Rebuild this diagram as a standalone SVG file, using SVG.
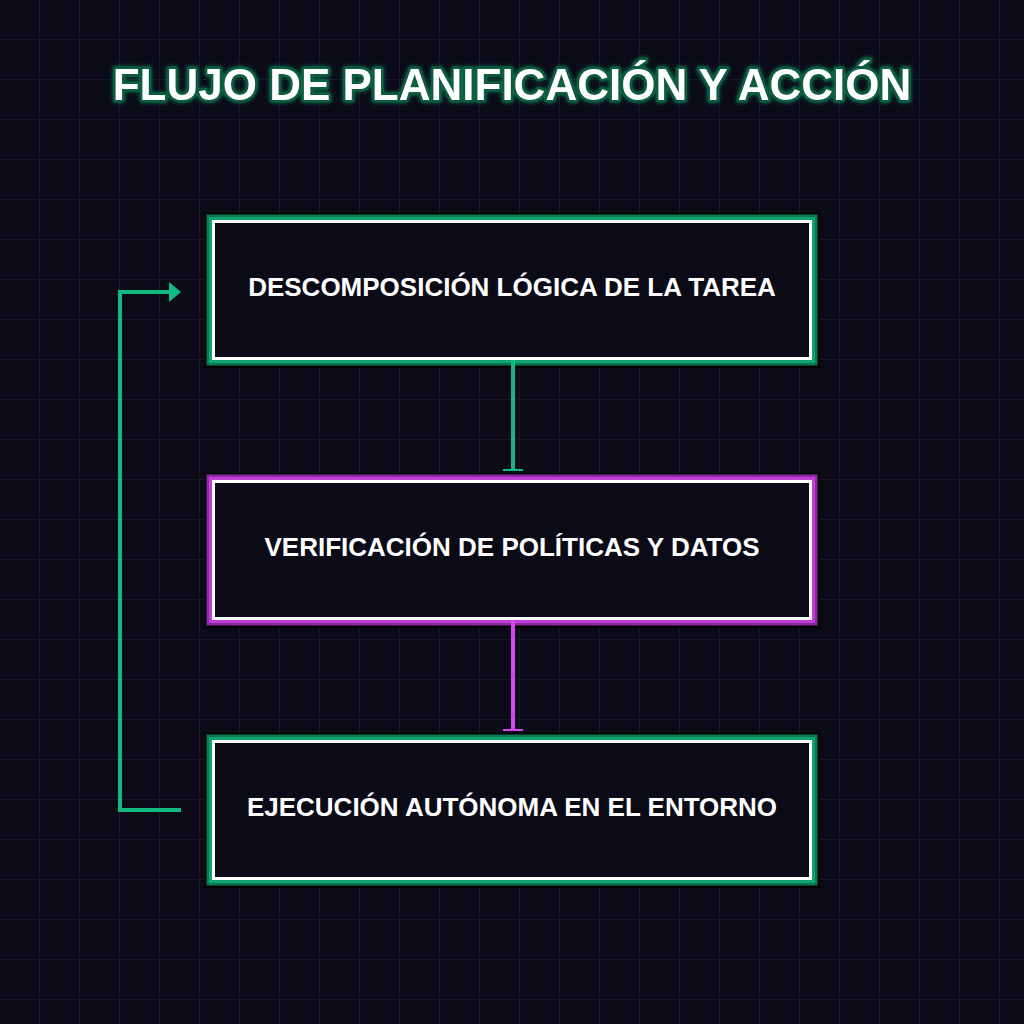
<svg xmlns="http://www.w3.org/2000/svg" width="1024" height="1024" viewBox="0 0 1024 1024">
<defs>
<pattern id="grid" width="40" height="40" patternUnits="userSpaceOnUse">
<path d="M40 0V40M0 40H40" fill="none" stroke="#18182a" stroke-width="1" transform="translate(-0.5,-0.5)"/>
</pattern>
<filter id="glow" x="-10%" y="-50%" width="120%" height="200%">
<feGaussianBlur stdDeviation="2" in="SourceAlpha" result="b"/>
<feFlood flood-color="#10b981" flood-opacity="0.6"/>
<feComposite in2="b" operator="in" result="g"/>
<feMerge><feMergeNode in="g"/><feMergeNode in="SourceGraphic"/></feMerge>
</filter>
<marker id="arrow-g" viewBox="0 0 12 20" refX="1" refY="10" markerWidth="12" markerHeight="20" markerUnits="userSpaceOnUse" orient="auto">
<path d="M0 0L12 10L0 20Z" fill="#10b981"/>
</marker>
<style>
.bg{fill:#0b0b18}
.title{font-family:"Liberation Sans",Arial,sans-serif;font-weight:bold;font-size:44px;fill:#ffffff;stroke:#0a5c3d;stroke-width:5px;paint-order:stroke;stroke-linejoin:round;text-anchor:middle}
.label{font-family:"Liberation Sans",Arial,sans-serif;font-weight:bold;font-size:26px;fill:#ffffff;text-anchor:middle}
.inner{fill:#0b0b18;stroke:#ffffff;stroke-width:3}
.sh{fill:#000000}
.g1{fill:#08402b}
.g2{fill:#0b7a51}
.g3{fill:#0fa472}
.p1{fill:#4a1757}
.p2{fill:#8a2aa0}
.p3{fill:#c13fd6}
.conn{fill:none;stroke-width:4}
</style>
</defs>
<rect width="1024" height="1024" class="bg"/>
<rect width="1024" height="1024" fill="url(#grid)"/>
<text class="title" x="512" y="100" filter="url(#glow)">FLUJO DE PLANIFICACIÓN Y ACCIÓN</text>
<g id="node-descomposicion">
<rect class="sh" x="205" y="213" width="615" height="155"/>
<rect class="g1" x="206" y="214" width="612" height="152"/>
<rect class="g2" x="207" y="215" width="610" height="150"/>
<rect class="g3" x="209" y="217" width="606" height="146"/>
<rect class="inner" x="213.5" y="221.5" width="597" height="137"/>
<text class="label" x="512" y="296">DESCOMPOSICIÓN LÓGICA DE LA TAREA</text>
</g>
<g id="node-verificacion">
<rect class="sh" x="205" y="473" width="615" height="155"/>
<rect class="p1" x="206" y="474" width="612" height="152"/>
<rect class="p2" x="207" y="475" width="610" height="150"/>
<rect class="p3" x="209" y="477" width="606" height="146"/>
<rect class="inner" x="213.5" y="481.5" width="597" height="137"/>
<text class="label" x="512" y="556">VERIFICACIÓN DE POLÍTICAS Y DATOS</text>
</g>
<g id="node-ejecucion">
<rect class="sh" x="205" y="733" width="615" height="155"/>
<rect class="g1" x="206" y="734" width="612" height="152"/>
<rect class="g2" x="207" y="735" width="610" height="150"/>
<rect class="g3" x="209" y="737" width="606" height="146"/>
<rect class="inner" x="213.5" y="741.5" width="597" height="137"/>
<text class="label" x="512" y="816">EJECUCIÓN AUTÓNOMA EN EL ENTORNO</text>
</g>
<g id="connectors">
<path class="conn" stroke="#10b981" d="M513 360V470"/>
<rect x="503" y="469" width="20" height="2" fill="#10b981"/>
<path class="conn" stroke="#d946ef" d="M513 620V730"/>
<rect x="503" y="729" width="20" height="2" fill="#d946ef"/>
<path class="conn" stroke="#10b981" d="M181 810H120V292H170" marker-end="url(#arrow-g)"/>
</g>
</svg>
